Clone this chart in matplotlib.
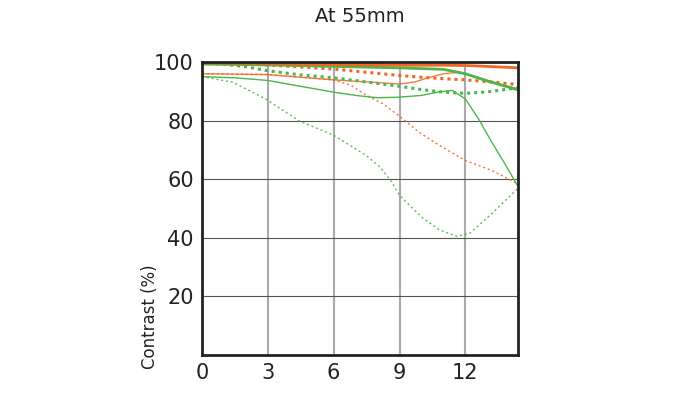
import matplotlib
matplotlib.use("Agg")
import matplotlib.pyplot as plt

# image height (mm) -> contrast (%)
x_s_thick = [0, 3, 6, 9, 11, 12, 13, 14.4]
sag30_thick = [99.7, 99.4, 99.1, 98.9, 98.9, 98.8, 98.5, 98.0]  # orange solid thick
sag10_thick = [99.3, 99.0, 98.5, 98.0, 97.5, 96.0, 93.5, 90.5]  # green solid thick

x_m_thick = [0, 1, 2, 3, 4.5, 6, 7.5, 9, 10, 11, 12, 13, 14.4]
mer30_thick = [99.6, 99.5, 99.3, 99.0, 98.3, 97.6, 96.5, 95.4, 94.8, 94.3, 93.9, 93.3, 92.3]  # orange dotted thick
mer10_thick = [99.6, 99.2, 98.4, 97.0, 95.6, 94.6, 93.2, 91.7, 90.6, 89.7, 89.3, 89.8, 91.2]  # green dotted thick

x_s_thin = [0, 3, 6, 7.5, 9, 9.7, 10.3, 11, 11.6, 12.2, 13, 13.7, 14.4]
sag30_thin = [96.0, 95.7, 93.9, 93.2, 92.5, 93.2, 94.6, 96.0, 96.4, 95.6, 93.8, 92.2, 90.8]  # orange solid thin

x_g_thin = [0, 1.5, 3, 4.5, 6, 7, 8, 9, 10, 10.8, 11.4, 12.0, 12.6, 13.2, 13.8, 14.4]
sag10_thin = [95.0, 94.6, 93.7, 91.7, 89.7, 88.6, 87.8, 88.0, 88.6, 89.8, 90.3, 87.4, 80.6, 72.7, 65.3, 57.5]  # green solid thin

x_o_dot = [0, 3, 6, 6.8, 7.5, 8.25, 9, 9.9, 10.8, 12, 13.2, 14.1, 14.4]
mer30_thin = [96.0, 95.7, 93.9, 92.0, 88.6, 85.7, 81.5, 76.0, 71.6, 66.4, 63.0, 59.6, 58.3]  # orange dotted thin

x_g_dot = [0, 1.4, 2.9, 4.4, 6, 7.5, 8.1, 8.6, 9, 10, 10.8, 11.6, 12.2, 13.2, 14.3, 14.4]
mer10_thin = [95.0, 93.1, 87.4, 80.0, 75.0, 68.0, 64.2, 59.6, 54.5, 47.1, 42.8, 40.5, 41.5, 48.2, 56.2, 56.8]  # green dotted thin

orange = "#f26522"
green = "#4cb648"

fig = plt.figure(figsize=(7, 3.93), dpi=100)
ax = fig.add_axes([202 / 700, 38 / 393, 316 / 700, 293 / 393])

ax.plot(x_g_dot, mer10_thin, color=green, lw=1.0, ls=(0, (1.5, 2)), alpha=0.9)
ax.plot(x_o_dot, mer30_thin, color=orange, lw=1.0, ls=(0, (1.5, 2)), alpha=0.9)
ax.plot(x_g_thin, sag10_thin, color=green, lw=1.0)
ax.plot(x_s_thin, sag30_thin, color=orange, lw=1.0, alpha=0.85)
ax.plot(x_m_thick, mer10_thick, color=green, lw=2.2, ls=(0, (1, 1.3)))
ax.plot(x_m_thick, mer30_thick, color=orange, lw=2.2, ls=(0, (1, 1.3)))
ax.plot(x_s_thick, sag10_thick, color=green, lw=2.0)
ax.plot(x_s_thick, sag30_thick, color=orange, lw=2.0)

ax.set_xlim(0, 14.4)
ax.set_ylim(0, 100)
ax.set_xticks([0, 3, 6, 9, 12])
ax.set_yticks([20, 40, 60, 80, 100])
ax.tick_params(length=0, labelsize=15, pad=6, colors="#222222")
for v in [3, 6, 9, 12]:
    ax.axvline(v, color="#aaaaaa", lw=1.5, zorder=0)
for v in [20, 40, 60, 80]:
    ax.axhline(v, color="#555555", lw=0.8, zorder=0)
for s in ax.spines.values():
    s.set_linewidth(2)
    s.set_color("#222222")

ax.text(-0.165, 0.13, "Contrast (%)", rotation=90, transform=ax.transAxes,
        ha="center", va="center", fontsize=12, color="#222222")
fig.text(360 / 700, 1 - 17 / 393, "At 55mm", ha="center", va="center",
         fontsize=14, color="#222222")

fig.savefig("out.png", dpi=100)
